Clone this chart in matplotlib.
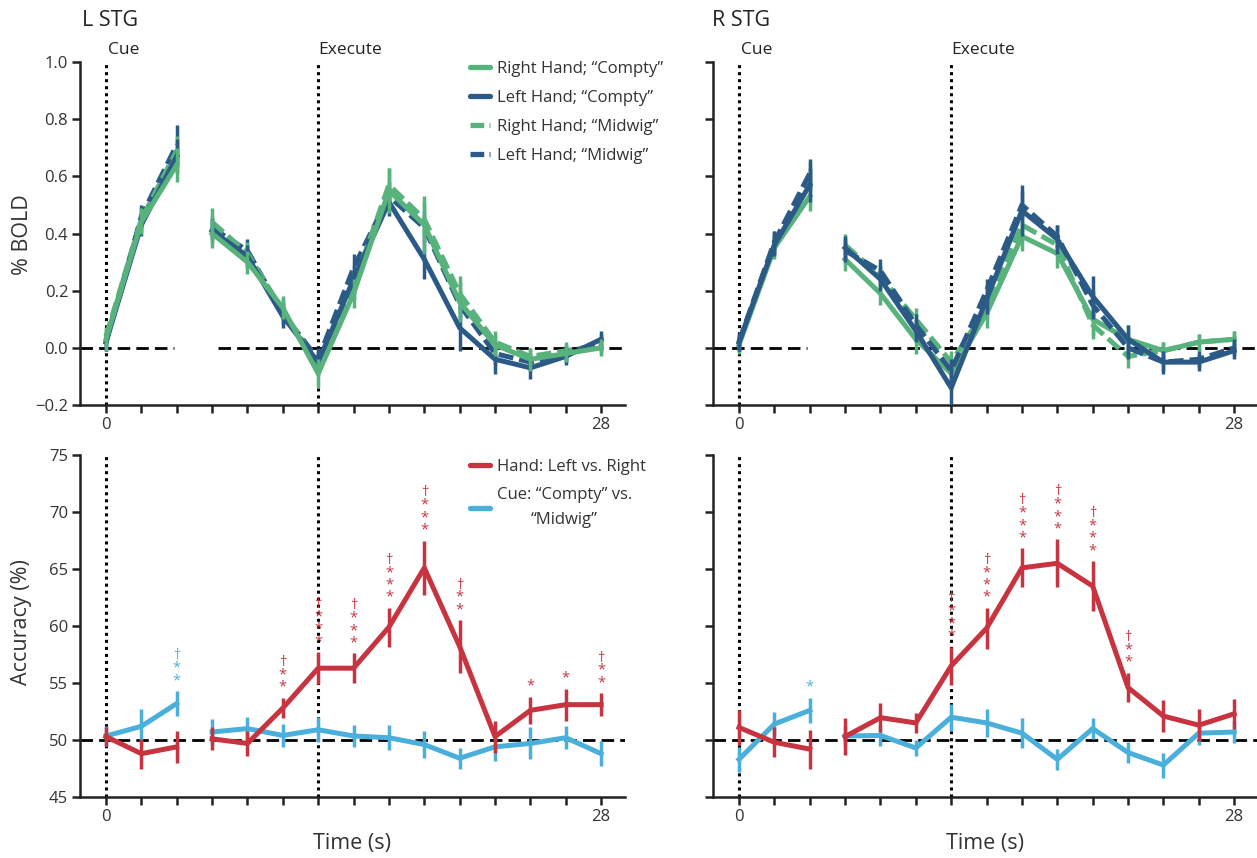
import matplotlib
matplotlib.use("Agg")
import matplotlib.pyplot as plt
from matplotlib.lines import Line2D

plt.rcParams['font.family'] = ['Open Sans', 'DejaVu Sans']

# ---------------- data ----------------
time_cue = [0, 2, 4]
time_exec = [6, 8, 10, 12, 14, 16, 18, 20, 22, 24, 26, 28]
xtick_vals = list(range(0, 29, 2))
xtick_labels = ['0'] + [''] * 13 + ['28']

series_names = ['Right Hand; \u201cCompty\u201d', 'Left Hand; \u201cCompty\u201d',
                'Right Hand; \u201cMidwig\u201d', 'Left Hand; \u201cMidwig\u201d']

# L STG  (% BOLD)
L_RC_cue = [0.03, 0.44, 0.64]
L_RC_exec = [0.40, 0.30, 0.14, -0.09, 0.19, 0.55, 0.43, 0.16, 0.01, -0.04, -0.02, 0.00]
L_LC_cue = [0.02, 0.43, 0.67]
L_LC_exec = [0.41, 0.32, 0.11, -0.05, 0.24, 0.51, 0.31, 0.07, -0.04, -0.07, -0.03, 0.03]
L_RM_cue = [0.04, 0.45, 0.69]
L_RM_exec = [0.44, 0.33, 0.13, -0.06, 0.22, 0.57, 0.45, 0.19, 0.02, -0.03, -0.01, 0.01]
L_LM_cue = [0.02, 0.46, 0.71]
L_LM_exec = [0.42, 0.34, 0.12, -0.04, 0.28, 0.53, 0.42, 0.15, -0.02, -0.05, -0.02, 0.02]
L_RC_err_cue = [0.04, 0.04, 0.06]
L_RC_err_exec = [0.05, 0.04, 0.04, 0.05, 0.05, 0.08, 0.10, 0.07, 0.04, 0.04, 0.03, 0.03]
L_LC_err_cue = [0.03, 0.04, 0.06]
L_LC_err_exec = [0.04, 0.04, 0.04, 0.04, 0.05, 0.05, 0.07, 0.08, 0.05, 0.04, 0.03, 0.03]
L_RM_err_cue = [0.03, 0.04, 0.05]
L_RM_err_exec = [0.05, 0.04, 0.04, 0.04, 0.05, 0.06, 0.06, 0.06, 0.04, 0.03, 0.03, 0.03]
L_LM_err_cue = [0.03, 0.04, 0.07]
L_LM_err_exec = [0.04, 0.04, 0.04, 0.04, 0.05, 0.05, 0.05, 0.05, 0.04, 0.03, 0.03, 0.03]

# R STG  (% BOLD)
R_RC_cue = [0.01, 0.35, 0.53]
R_RC_exec = [0.31, 0.19, 0.03, -0.09, 0.12, 0.39, 0.33, 0.10, 0.03, -0.01, 0.02, 0.03]
R_LC_cue = [0.02, 0.36, 0.57]
R_LC_exec = [0.35, 0.24, 0.06, -0.14, 0.17, 0.48, 0.38, 0.18, 0.03, -0.05, -0.05, -0.01]
R_RM_cue = [0.02, 0.37, 0.60]
R_RM_exec = [0.36, 0.25, 0.10, -0.05, 0.14, 0.43, 0.36, 0.08, -0.03, -0.01, 0.02, 0.03]
R_LM_cue = [0.02, 0.37, 0.61]
R_LM_exec = [0.34, 0.27, 0.08, -0.08, 0.20, 0.50, 0.39, 0.15, 0.00, -0.05, -0.04, 0.00]
R_RC_err_cue = [0.03, 0.04, 0.05]
R_RC_err_exec = [0.04, 0.04, 0.05, 0.04, 0.05, 0.05, 0.05, 0.06, 0.05, 0.03, 0.03, 0.03]
R_LC_err_cue = [0.03, 0.04, 0.06]
R_LC_err_exec = [0.04, 0.04, 0.04, 0.07, 0.05, 0.09, 0.05, 0.07, 0.05, 0.04, 0.03, 0.03]
R_RM_err_cue = [0.03, 0.04, 0.05]
R_RM_err_exec = [0.04, 0.04, 0.04, 0.04, 0.04, 0.05, 0.04, 0.05, 0.04, 0.03, 0.03, 0.03]
R_LM_err_cue = [0.03, 0.04, 0.05]
R_LM_err_exec = [0.04, 0.04, 0.04, 0.04, 0.04, 0.05, 0.04, 0.05, 0.04, 0.03, 0.03, 0.03]

# Accuracy (%)
acc_names = ['Hand: Left vs. Right', 'Cue: \u201cCompty\u201d vs.\n\u201cMidwig\u201d']
L_hand_cue = [50.3, 48.8, 49.4]
L_hand_exec = [50.1, 49.7, 52.8, 56.3, 56.3, 59.9, 65.1, 58.2, 50.3, 52.6, 53.1, 53.1]
L_hand_err_cue = [0.8, 1.3, 1.4]
L_hand_err_exec = [1.0, 1.1, 0.9, 1.4, 1.3, 1.7, 2.4, 2.3, 1.4, 1.2, 1.4, 1.0]
L_cue_cue = [50.35, 51.2, 53.2]
L_cue_exec = [50.7, 51.0, 50.4, 50.9, 50.35, 50.2, 49.6, 48.4, 49.4, 49.7, 50.2, 48.8]
L_cue_err_cue = [0.9, 1.5, 1.1]
L_cue_err_exec = [1.1, 1.0, 1.0, 1.1, 1.0, 1.1, 1.2, 0.9, 1.2, 1.4, 1.0, 1.1]

R_hand_cue = [51.1, 49.8, 49.2]
R_hand_exec = [50.3, 51.96, 51.5, 56.5, 59.8, 65.1, 65.5, 63.5, 54.6, 52.1, 51.3, 52.3]
R_hand_err_cue = [1.5, 1.3, 1.7]
R_hand_err_exec = [1.6, 1.3, 0.9, 1.7, 1.8, 1.7, 2.1, 2.2, 1.3, 1.4, 1.4, 1.3]
R_cue_cue = [48.3, 51.4, 52.6]
R_cue_exec = [50.35, 50.4, 49.3, 52.0, 51.5, 50.6, 48.3, 51.0, 48.9, 47.8, 50.6, 50.7]
R_cue_err_cue = [1.1, 1.1, 1.1]
R_cue_err_exec = [0.9, 0.9, 0.7, 1.2, 1.2, 1.3, 0.9, 0.9, 0.9, 1.1, 1.0, 1.0]

# significance markers: time -> marker string
L_hand_sig = {10: '\u2020**', 12: '\u2020***', 14: '\u2020***', 16: '\u2020***', 18: '\u2020***',
              20: '\u2020**', 24: '*', 26: '*', 28: '\u2020**'}
L_cue_sig = {4: '\u2020**'}
R_hand_sig = {12: '\u2020***', 14: '\u2020***', 16: '\u2020***', 18: '\u2020***', 20: '\u2020***',
              22: '\u2020**'}
R_cue_sig = {4: '*'}

# ---------------- styles ----------------
GREEN = '#57B27B'
NAVY = '#2B5A87'
RED = '#C73440'
LBLUE = '#4AB0DB'
DASH = (0, (3.0, 1.2))

W, H = 1257, 858
fig = plt.figure(figsize=(W / 100, H / 100), dpi=100)

def ax_at(left, top, width, height):
    return fig.add_axes([left / W, 1 - (top + height) / H, width / W, height / H])

ax_tl = ax_at(80, 62, 545, 343)
ax_tr = ax_at(713, 62, 545, 343)
ax_bl = ax_at(80, 455, 545, 342)
ax_br = ax_at(713, 455, 545, 342)

XLIM = (-1.47, 29.35)

def style_axes(ax, ylim, yticks, yticklabels):
    ax.set_xlim(*XLIM)
    ax.set_ylim(*ylim)
    for s in ['top', 'right']:
        ax.spines[s].set_visible(False)
    for s in ['left', 'bottom']:
        ax.spines[s].set_linewidth(1.8)
        ax.spines[s].set_color('#222222')
    ax.set_xticks(xtick_vals)
    ax.set_xticklabels(xtick_labels)
    ax.set_yticks(yticks)
    ax.set_yticklabels(yticklabels)
    ax.tick_params(axis='both', length=5.5, width=1.8, color='#222222',
                   labelsize=12, labelcolor='#333333', pad=3)

def draw(ax, t, y, e, color, ls, lw=3.6, z=3):
    ax.errorbar(t, y, yerr=e, color=color, lw=lw, ls=ls, elinewidth=2.5,
                capsize=0, zorder=z, dash_capstyle='butt')

# ---- BOLD panels ----
bold_ticks = [-0.2, 0.0, 0.2, 0.4, 0.6, 0.8, 1.0]
bold_labels = ['\u22120.2', '0.0', '0.2', '0.4', '0.6', '0.8', '1.0']

panels_bold = [
    (ax_tl, [(L_LM_cue, L_LM_exec, L_LM_err_cue, L_LM_err_exec, NAVY, DASH),
             (L_RM_cue, L_RM_exec, L_RM_err_cue, L_RM_err_exec, GREEN, DASH),
             (L_LC_cue, L_LC_exec, L_LC_err_cue, L_LC_err_exec, NAVY, '-'),
             (L_RC_cue, L_RC_exec, L_RC_err_cue, L_RC_err_exec, GREEN, '-')]),
    (ax_tr, [(R_RM_cue, R_RM_exec, R_RM_err_cue, R_RM_err_exec, GREEN, DASH),
             (R_RC_cue, R_RC_exec, R_RC_err_cue, R_RC_err_exec, GREEN, '-'),
             (R_LM_cue, R_LM_exec, R_LM_err_cue, R_LM_err_exec, NAVY, DASH),
             (R_LC_cue, R_LC_exec, R_LC_err_cue, R_LC_err_exec, NAVY, '-')]),
]

for i, (ax, ser) in enumerate(panels_bold):
    style_axes(ax, (-0.2, 1.0), bold_ticks, bold_labels if i == 0 else [''] * 7)
    ax.plot([XLIM[0], 3.85], [0, 0], color='black', lw=2.0, ls=(0, (4.5, 2.2)), zorder=1)
    ax.plot([6.35, XLIM[1]], [0, 0], color='black', lw=2.0, ls=(0, (4.5, 2.2)), zorder=1)
    for xv in (0, 12):
        ax.axvline(xv, color='black', lw=2.2, ls=(0, (1, 1.3)), zorder=1)
    for z, (yc, ye, ec, ee, col, ls) in enumerate(ser):
        draw(ax, time_cue, yc, ec, col, ls, z=3 + z)
        draw(ax, time_exec, ye, ee, col, ls, z=3 + z)
    ax.annotate('Cue', xy=(0, 1), xycoords=('data', 'axes fraction'), xytext=(2, 12),
                textcoords='offset pixels', ha='left', va='center', fontsize=12.5, color='#222222')
    ax.annotate('Execute', xy=(12, 1), xycoords=('data', 'axes fraction'), xytext=(0, 12),
                textcoords='offset pixels', ha='left', va='center', fontsize=12.5, color='#222222')

hs = [Line2D([], [], color=GREEN, lw=3.8, solid_capstyle='round'),
      Line2D([], [], color=NAVY, lw=3.8, solid_capstyle='round'),
      Line2D([], [], color=GREEN, lw=3.8, ls=(0, (2.6, 1.0, 0.8, 1.0))),
      Line2D([], [], color=NAVY, lw=3.8, ls=(0, (2.6, 1.0, 0.8, 1.0)))]
leg = ax_tl.legend(hs, series_names, loc='upper left', bbox_to_anchor=((470 - 80) / 545, (405 - 61) / 343),
                   frameon=False, fontsize=12, handlelength=1.2, handletextpad=0.4,
                   labelspacing=0.78, borderpad=0, borderaxespad=0)
for t in leg.get_texts():
    t.set_color('#333333')

# ---- Accuracy panels ----
acc_ticks = [45, 50, 55, 60, 65, 70, 75]
acc_labels = ['45', '50', '55', '60', '65', '70', '75']

panels_acc = [
    (ax_bl, (L_hand_cue, L_hand_exec, L_hand_err_cue, L_hand_err_exec, L_hand_sig),
            (L_cue_cue, L_cue_exec, L_cue_err_cue, L_cue_err_exec, L_cue_sig)),
    (ax_br, (R_hand_cue, R_hand_exec, R_hand_err_cue, R_hand_err_exec, R_hand_sig),
            (R_cue_cue, R_cue_exec, R_cue_err_cue, R_cue_err_exec, R_cue_sig)),
]

for i, (ax, hand, cue) in enumerate(panels_acc):
    style_axes(ax, (45, 75), acc_ticks, acc_labels if i == 0 else [''] * 7)
    ax.axhline(50, color='black', lw=2.0, ls=(0, (4.5, 2.2)), zorder=1)
    for xv in (0, 12):
        ax.axvline(xv, color='black', lw=2.2, ls=(0, (1, 1.3)), zorder=1)
    for (yc, ye, ec, ee, sig), col, z in ((cue, LBLUE, 3), (hand, RED, 4)):
        draw(ax, time_cue, yc, ec, col, '-', z=z)
        draw(ax, time_exec, ye, ee, col, '-', z=z)
        allt = time_cue + time_exec
        ally = list(yc) + list(ye)
        alle = list(ec) + list(ee)
        for tt, s in sig.items():
            k = allt.index(tt)
            ax.annotate('\n'.join(s), xy=(tt, ally[k] + alle[k]), xytext=(0, 3),
                        textcoords='offset pixels', ha='center', va='bottom',
                        fontsize=10.5, linespacing=0.76, color=col, zorder=6)

hs2 = [Line2D([], [], color=RED, lw=3.8, solid_capstyle='round'),
       Line2D([], [], color=LBLUE, lw=3.8, solid_capstyle='round')]
leg2 = ax_bl.legend(hs2, acc_names, loc='upper left', bbox_to_anchor=((470 - 80) / 545, 1.0 - 4 / 342),
                    frameon=False, fontsize=12, handlelength=1.2, handletextpad=0.4,
                    labelspacing=0.72, borderpad=0, borderaxespad=0)
for t in leg2.get_texts():
    t.set_color('#333333')
    t.set_multialignment('center')
    t.set_linespacing(1.75)

# ---- figure texts ----
fig.text(82 / W, 1 - 21 / H, 'L STG', ha='left', va='center', fontsize=15.5, color='#222222')
fig.text(712 / W, 1 - 21 / H, 'R STG', ha='left', va='center', fontsize=15.5, color='#222222')
fig.text(22 / W, 1 - 235 / H, '% BOLD', ha='center', va='center', rotation=90, fontsize=15.5, color='#333333')
fig.text(22 / W, 1 - 622 / H, 'Accuracy (%)', ha='center', va='center', rotation=90, fontsize=15.5, color='#333333')
fig.text(352 / W, 1 - 843 / H, 'Time (s)', ha='center', va='center', fontsize=15.5, color='#333333')
fig.text(985 / W, 1 - 843 / H, 'Time (s)', ha='center', va='center', fontsize=15.5, color='#333333')

fig.savefig('out.png', dpi=100)
